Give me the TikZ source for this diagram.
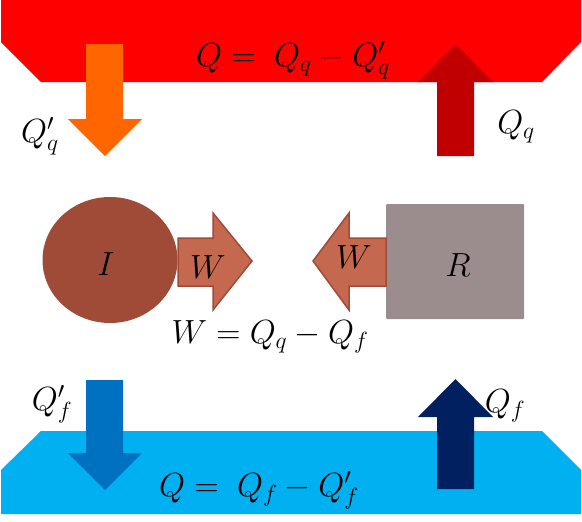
\RequirePackage{fix-cm}
\documentclass[tikz,border=0pt]{standalone}
\usepackage{tikz}
\usetikzlibrary{shapes.geometric, positioning}
\definecolor{hotred}{RGB}{255, 0, 0}
\definecolor{orangeq}{RGB}{255, 102, 0}
\definecolor{darkredq}{RGB}{192, 0, 0}
\definecolor{coldcyan}{RGB}{0, 176, 240}
\definecolor{blueq}{RGB}{0, 112, 192}
\definecolor{navyq}{RGB}{0, 32, 96}
\definecolor{engine}{RGB}{160, 75, 55}
\definecolor{wfill}{RGB}{196, 104, 80}
\definecolor{fridge}{RGB}{155, 141, 141}

\begin{document}
\begin{tikzpicture}[x=1pt, y=-1pt,
  lbl/.style={font=\fontsize{33.5pt}{38pt}\selectfont, inner sep=0pt},
  warr/.style={fill=wfill, draw=engine, line width=1.5pt, line join=miter},
  body/.style={inner sep=0pt}
]
\useasboundingbox (0,0) rectangle (582,522);
% reservoirs
\fill[hotred] (1,0) -- (581,0) -- (581,42) -- (542,82) -- (41,82) -- (1,42) -- cycle;
\fill[coldcyan] (41,431) -- (542,431) -- (581,470) -- (581,514) -- (1,514) -- (1,470) -- cycle;
% heat arrows
\fill[orangeq] (86,44) -- (123,44) -- (123,119) -- (142,119) -- (105,156)
  -- (68,119) -- (86,119) -- cycle;
\fill[darkredq] (437,156) -- (474,156) -- (474,82) -- (493,82) -- (455.5,44)
  -- (418,82) -- (437,82) -- cycle;
\fill[blueq] (86,380) -- (123,380) -- (123,453) -- (142,453) -- (105,490)
  -- (68,453) -- (86,453) -- cycle;
\fill[navyq] (437,489) -- (474,489) -- (474,417) -- (493,417) -- (455.5,379)
  -- (418,417) -- (437,417) -- cycle;
% engine and fridge
\node[body, ellipse, fill=engine, minimum width=135pt, minimum height=126pt]
  at (110,260) (eng) {};
\node[body, rectangle, rounded corners=1pt, fill=fridge,
      minimum width=138pt, minimum height=115pt] at (455,261.5) (frg) {};
\draw[warr] (178,238) -- (213,238) -- (213,213) -- (252,261) -- (213,310)
  -- (213,286) -- (178,286) -- cycle;
\draw[warr] (386,238) -- (349,238) -- (349,213) -- (313,261) -- (349,310)
  -- (349,286) -- (386,286) -- cycle;
% labels
\node[lbl] at (106,264) (engl) {$I$};
\node[lbl] at (458,265) (frgl) {$R$};
\node[lbl] at (208,267) (wout) {$W$};
\node[lbl] at (354,257) (win) {$W$};
\node[lbl] at (270,337) (weq) {$W=Q_q-Q_f$};
\node[lbl] at (293,60) (hoteq) {$Q=\;Q_q-Q_q'$};
\node[lbl] at (259,490) (coldeq) {$Q=\;Q_f-Q_f'$};
\node[lbl] at (40,136) (qqp) {$Q_q'$};
\node[lbl] at (516,127) (qq) {$Q_q$};
\node[lbl] at (52,404) (qfp) {$Q_f'$};
\node[lbl] at (505,406) (qf) {$Q_f$};
\end{tikzpicture}
\end{document}
